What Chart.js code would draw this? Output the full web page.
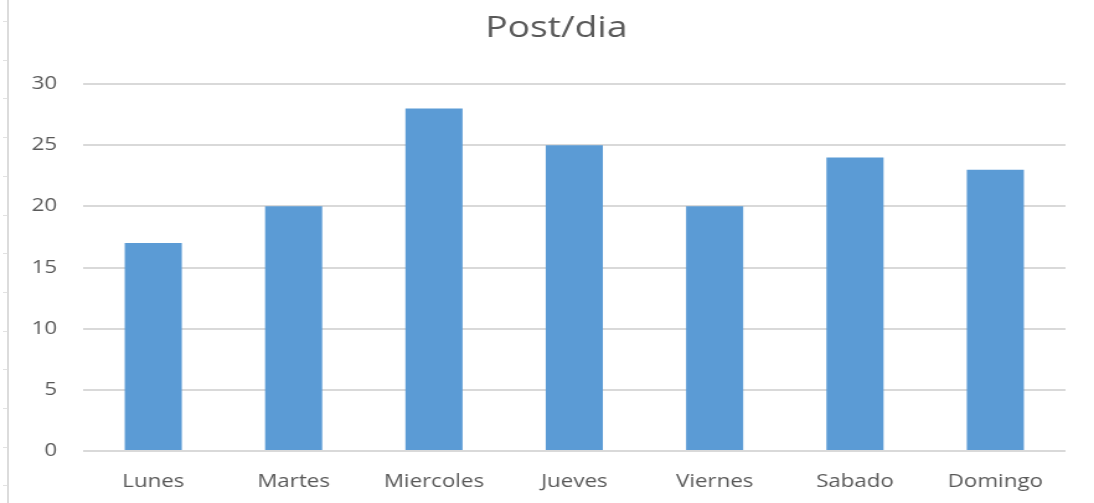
<!DOCTYPE html>
<html>
<head>
<meta charset="utf-8">
<script src="https://cdn.jsdelivr.net/npm/chart.js@4/dist/chart.umd.min.js"></script>
<style>
  html, body { margin: 0; padding: 0; background: #fff; overflow: hidden; }
  #wrap { position: relative; width: 1094px; height: 503px; }
  /* the chart is drawn narrow and widened, as in the original export */
  #chart { position: absolute; left: 0; top: 0; transform: scaleX(1.2404); transform-origin: 0 0; }
  #edge { position: absolute; left: 7px; top: 0; width: 2px; height: 503px; background: #dcdcdc; }
  #ruler { position: absolute; left: 3px; top: 0; width: 4px; height: 503px;
    background: repeating-linear-gradient(to bottom, transparent 0 21px, #e2e2e2 21px 22px, transparent 22px 38.7px); }
</style>
</head>
<body>
<div id="wrap">
  <canvas id="chart" width="882" height="503"></canvas>
  <div id="ruler"></div>
  <div id="edge"></div>
</div>
<script>
const dias = ['Lunes', 'Martes', 'Miercoles', 'Jueves', 'Viernes', 'Sabado', 'Domingo'];
const posts = [17, 20, 28, 25, 20, 24, 23];
const yMax = 30;
const yStep = 5;

const gris = '#595959';
const fuente = "'Open Sans', 'Liberation Sans', sans-serif";

// nudge the title block a little to the right of the canvas centre
const tituloDesplazado = {
  id: 'tituloDesplazado',
  afterLayout(chart) {
    const tb = chart.titleBlock;
    if (tb) { tb.left += 19; tb.right += 19; }
  }
};

new Chart(document.getElementById('chart'), {
  type: 'bar',
  data: {
    labels: dias,
    datasets: [{
      label: 'Post/dia',
      data: posts,
      backgroundColor: '#5b9bd5',
      barPercentage: 0.814,
      categoryPercentage: 0.5
    }]
  },
  options: {
    responsive: false,
    animation: false,
    layout: { padding: { left: 0, right: 23, top: 0, bottom: 0 } },
    plugins: {
      legend: { display: false },
      tooltip: { enabled: false },
      title: {
        display: true,
        text: 'Post/dia',
        color: gris,
        font: { family: fuente, size: 30, weight: 'normal' },
        padding: { top: 10, bottom: 38 }
      }
    },
    scales: {
      x: {
        afterFit: s => { s.height = 52; },
        grid: { display: false },
        border: { display: false },
        ticks: { color: gris, font: { family: fuente, size: 18 }, padding: 12, maxRotation: 0 }
      },
      y: {
        min: 0,
        max: yMax,
        afterFit: s => { s.width = 67; },
        grid: { color: '#d9d9d9', lineWidth: 2, drawTicks: false },
        border: { display: false },
        ticks: { stepSize: yStep, color: gris, font: { family: fuente, size: 18 }, padding: 21 }
      }
    }
  },
  plugins: [tituloDesplazado]
});
</script>
</body>
</html>
